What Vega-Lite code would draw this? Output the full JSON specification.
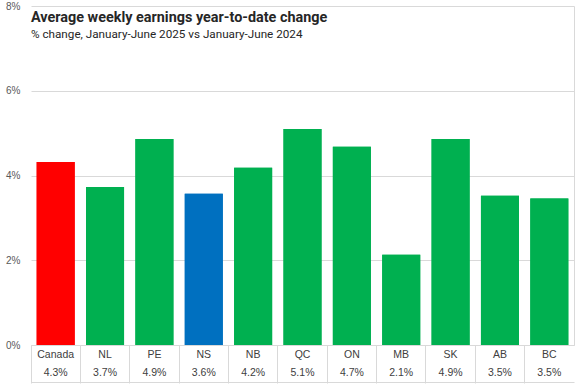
{
  "$schema": "https://vega.github.io/schema/vega-lite/v6.json",
  "width": 543,
  "height": 339,
  "autosize": {"type": "pad"},
  "padding": {"left": 5, "top": 1, "right": 3, "bottom": 0},
  "background": "white",
  "title": {
    "text": "Average weekly earnings year-to-date change",
    "subtitle": "% change, January-June 2025 vs January-June 2024",
    "anchor": "start",
    "frame": "group",
    "orient": "top",
    "offset": -41,
    "font": "Roboto",
    "fontSize": 14.4,
    "fontWeight": "bold",
    "color": "#262626",
    "subtitleFont": "Roboto",
    "subtitleFontSize": 11.7,
    "subtitleColor": "#262626",
    "subtitlePadding": 4
  },
  "data": {
    "values": [
      {"region": "Canada", "change": 4.32, "shown": "4.3%", "group": "Canada"},
      {"region": "NL", "change": 3.73, "shown": "3.7%", "group": "Other provinces"},
      {"region": "PE", "change": 4.86, "shown": "4.9%", "group": "Other provinces"},
      {"region": "NS", "change": 3.57, "shown": "3.6%", "group": "Nova Scotia"},
      {"region": "NB", "change": 4.18, "shown": "4.2%", "group": "Other provinces"},
      {"region": "QC", "change": 5.10, "shown": "5.1%", "group": "Other provinces"},
      {"region": "ON", "change": 4.68, "shown": "4.7%", "group": "Other provinces"},
      {"region": "MB", "change": 2.13, "shown": "2.1%", "group": "Other provinces"},
      {"region": "SK", "change": 4.86, "shown": "4.9%", "group": "Other provinces"},
      {"region": "AB", "change": 3.52, "shown": "3.5%", "group": "Other provinces"},
      {"region": "BC", "change": 3.46, "shown": "3.5%", "group": "Other provinces"}
    ]
  },
  "config": {"view": {"stroke": null}},
  "resolve": {"axis": {"x": "independent", "y": "independent"}},
  "layer": [
    {
      "mark": {"type": "bar", "width": {"band": 0.77}},
      "encoding": {
        "x": {
          "field": "region",
          "type": "nominal",
          "sort": null,
          "scale": {"paddingInner": 0, "paddingOuter": 0},
          "axis": {
            "title": null,
            "labelAngle": 0,
            "domain": true,
            "domainColor": "#d9d9d9",
            "ticks": true,
            "bandPosition": 0,
            "tickSize": 38,
            "tickColor": "#d9d9d9",
            "labelPadding": -34,
            "labelBaseline": "top",
            "labelLineHeight": 18,
            "labelFont": "Liberation Sans",
            "labelFontSize": 10.5,
            "labelColor": "#404040",
            "labelExpr": "[datum.value, {'Canada':'4.3%','NL':'3.7%','PE':'4.9%','NS':'3.6%','NB':'4.2%','QC':'5.1%','ON':'4.7%','MB':'2.1%','SK':'4.9%','AB':'3.5%','BC':'3.5%'}[datum.value]]"
          }
        },
        "y": {
          "field": "change",
          "type": "quantitative",
          "scale": {"domain": [0, 8], "nice": false},
          "axis": {
            "title": null,
            "values": [0, 2, 4, 6, 8],
            "labelExpr": "datum.value + '%'",
            "domain": false,
            "ticks": false,
            "gridColor": "#d9d9d9",
            "labelPadding": 11,
            "labelFont": "Liberation Sans",
            "labelFontSize": 10,
            "labelColor": "#595959"
          }
        },
        "color": {
          "field": "group",
          "type": "nominal",
          "scale": {"domain": ["Canada", "Nova Scotia", "Other provinces"], "range": ["#ff0000", "#0070c0", "#00b050"]},
          "legend": null
        }
      }
    },
    {
      "mark": {"type": "bar", "width": {"band": 0.77}},
      "encoding": {
        "x": {
          "field": "region",
          "type": "nominal",
          "sort": null,
          "axis": {"orient": "bottom", "offset": 37, "title": null, "labels": false, "ticks": false, "grid": false, "domain": true, "domainColor": "#d9d9d9"}
        },
        "y": {
          "field": "change",
          "type": "quantitative",
          "axis": {"orient": "right", "title": null, "labels": false, "ticks": false, "grid": false, "domain": true, "domainColor": "#d9d9d9"}
        },
        "color": {"field": "group", "type": "nominal", "legend": null}
      }
    }
  ]
}
